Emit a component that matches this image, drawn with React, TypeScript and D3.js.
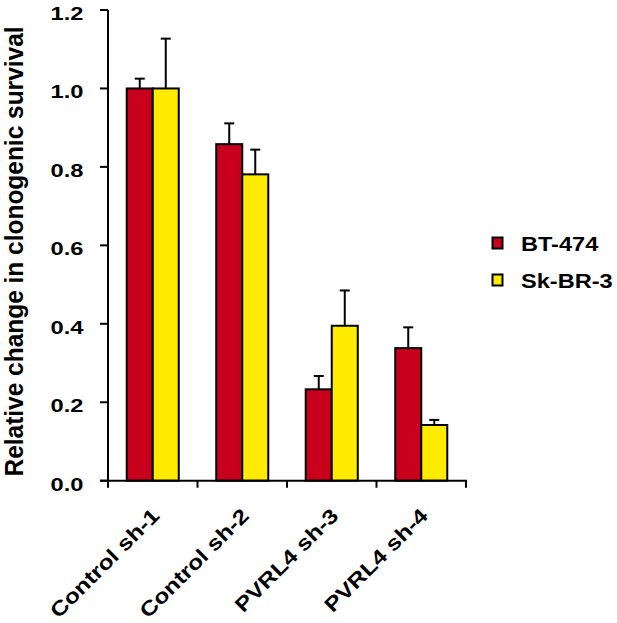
import React, { useEffect, useRef } from 'react';
import * as d3 from 'd3';

const categories = ['Control sh-1', 'Control sh-2', 'PVRL4 sh-3', 'PVRL4 sh-4'];
const series = ['BT-474', 'Sk-BR-3'];
const seriesColors = ['#C8001E', '#FFEB00'];
const bt474Values = [1.0, 0.858, 0.233, 0.338];
const bt474Errors = [0.025, 0.053, 0.034, 0.053];
const skbr3Values = [1.0, 0.781, 0.395, 0.142];
const skbr3Errors = [0.127, 0.063, 0.09, 0.013];
const yTicks = [0, 0.2, 0.4, 0.6, 0.8, 1.0, 1.2];

const W = 617;
const H = 623;
const FONT = '"Liberation Sans", Arial, sans-serif';

const App: React.FC = () => {
  const svgRef = useRef<SVGSVGElement>(null);

  useEffect(() => {
    if (!svgRef.current) return;
    const svg = d3.select(svgRef.current);
    svg.selectAll('*').remove();

    const values = [bt474Values, skbr3Values];
    const errors = [bt474Errors, skbr3Errors];

    const x0 = d3.scaleBand<string>().domain(categories).range([108, 466]).padding(0);
    const x1 = d3.scaleBand<string>()
      .domain(series)
      .range([0, x0.bandwidth()])
      .paddingInner(0)
      .paddingOuter(0.72);
    const y = d3.scaleLinear().domain([0, 1.2]).range([480.7, 10]);

    const g = svg.append('g');

    // barras
    series.forEach((s, si) => {
      g.append('g')
        .selectAll('rect')
        .data(categories)
        .join('rect')
        .attr('x', c => x0(c)! + x1(s)!)
        .attr('y', (c, i) => y(values[si][i]))
        .attr('width', x1.bandwidth())
        .attr('height', (c, i) => y(0) - y(values[si][i]))
        .attr('fill', seriesColors[si])
        .attr('stroke', '#000')
        .attr('stroke-width', 2);

      // barras de error
      const eb = g.append('g').attr('stroke', '#000').attr('stroke-width', 2);
      categories.forEach((c, i) => {
        const cx = x0(c)! + x1(s)! + x1.bandwidth() / 2;
        const top = y(values[si][i] + errors[si][i]);
        eb.append('line')
          .attr('x1', cx).attr('x2', cx)
          .attr('y1', y(values[si][i])).attr('y2', top);
        eb.append('line')
          .attr('x1', cx - 5).attr('x2', cx + 5)
          .attr('y1', top).attr('y2', top);
      });
    });

    // eje Y
    const yAxis = g.append('g').attr('stroke', '#000').attr('stroke-width', 2);
    yAxis.append('line')
      .attr('x1', 108).attr('x2', 108)
      .attr('y1', y(1.2)).attr('y2', y(0));
    yTicks.forEach(t => {
      yAxis.append('line')
        .attr('x1', 100).attr('x2', 108)
        .attr('y1', y(t)).attr('y2', y(t));
      g.append('text')
        .attr('transform', `translate(83.5,${y(t) + 10}) scale(1.28,1)`)
        .attr('text-anchor', 'end')
        .style('font', `bold 18.5px ${FONT}`)
        .text(d3.format('.1f')(t));
    });

    // eje X
    const xAxis = g.append('g').attr('stroke', '#000').attr('stroke-width', 2);
    xAxis.append('line')
      .attr('x1', 100).attr('x2', 467)
      .attr('y1', y(0)).attr('y2', y(0));
    const bounds = [...categories.map(c => x0(c)!), x0.range()[1]];
    bounds.forEach(b => {
      xAxis.append('line')
        .attr('x1', b).attr('x2', b)
        .attr('y1', y(0)).attr('y2', y(0) + 7);
    });

    categories.forEach(c => {
      const cx = x0(c)! + x0.bandwidth() / 2;
      g.append('text')
        .attr('transform', `translate(${cx + 8},517) rotate(-45) scale(1.2,1)`)
        .attr('text-anchor', 'end')
        .style('font', `bold 20.5px ${FONT}`)
        .text(c);
    });

    // título del eje Y
    g.append('text')
      .attr('transform', `translate(22.5,251.5) rotate(-90) scale(1.02,1.06)`)
      .attr('text-anchor', 'middle')
      .style('font', `bold 24px ${FONT}`)
      .text('Relative change in clonogenic survival');

    // leyenda
    const legendY = [243, 280];
    series.forEach((s, si) => {
      g.append('rect')
        .attr('x', 492.5)
        .attr('y', legendY[si] - 5.5)
        .attr('width', 10)
        .attr('height', 11)
        .attr('fill', seriesColors[si])
        .attr('stroke', '#000')
        .attr('stroke-width', 2);
      g.append('text')
        .attr('transform', `translate(521,${legendY[si] + 7.8}) scale(1.15,1)`)
        .style('font', `bold 20.5px ${FONT}`)
        .text(s);
    });
  }, []);

  return (
    <svg
      ref={svgRef}
      width={W}
      height={H}
      style={{ position: 'absolute', left: 0, top: 0, background: '#fff' }}
    />
  );
};

export default App;
